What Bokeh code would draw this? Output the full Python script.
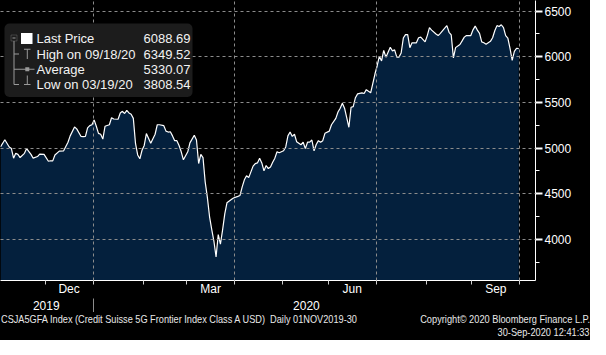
import pandas as pd
from bokeh.plotting import figure
from bokeh.models import (FixedTicker, LinearAxis, Range1d, BoxAnnotation, Label,
                          PolyAnnotation, Div, ColumnDataSource)
from bokeh.layouts import column
from bokeh.embed import file_html
from bokeh.resources import INLINE

# ---------------- data ----------------
start_date = "2019-11-01"
end_date = "2020-09-30"

# trading-day number (0 = 01 Nov 2019) and index level
trade_day = [0, 2, 4, 5, 6, 7, 8, 9, 11, 12, 14, 15, 17, 18, 20, 22, 23, 24, 25, 27,
             29, 31, 32, 34, 35, 37, 38, 39, 40, 41, 42, 43, 44, 45, 46, 47, 48, 50, 51, 52,
             54, 55, 56, 57, 58, 59, 60, 61, 62, 63, 64, 65, 66, 67, 69, 71, 72, 73, 75, 76,
             77, 78, 79, 80, 81, 82, 83, 84, 86, 87, 89, 90, 91, 92, 93, 94, 95, 96, 97, 98,
             99, 100, 101, 102, 103, 104, 106, 107, 109, 110, 111, 112, 113, 114, 116, 117, 118, 119, 120, 121,
             122, 123, 124, 125, 126, 127, 128, 130, 131, 132, 133, 134, 135, 136, 138, 139, 140, 141, 142, 143,
             144, 145, 146, 147, 148, 149, 151, 152, 154, 155, 156, 157, 158, 159, 160, 161, 162, 163, 164, 166,
             167, 168, 169, 170, 171, 172, 173, 174, 175, 176, 177, 179, 180, 181, 182, 183, 184, 185, 186, 187,
             188, 189, 191, 192, 193, 195, 196, 197, 198, 200, 201, 202, 204, 205, 206, 207, 208, 209, 211, 212,
             213, 214, 216, 217, 218, 219, 220, 221, 222, 223, 225, 226, 227, 228, 229, 230, 231, 232, 233, 234,
             235, 236, 237, 238]
close = [5012, 5091, 5012, 4994, 4889, 4942, 4931, 4896, 4942, 4994, 4931, 4889, 4907, 4934, 4931, 4855, 4861, 4859, 4924, 4966,
         4970, 5064, 5133, 5231, 5210, 5127, 5124, 5127, 5220, 5245, 5255, 5308, 5238, 5161, 5151, 5098, 5238, 5255, 5332, 5318,
         5315, 5384, 5402, 5378, 5412, 5384, 5370, 5325, 5050, 4924, 4882, 4976, 5028, 5158, 5053, 5151, 5255, 5255, 5245, 5185,
         5175, 5178, 5133, 5081, 5081, 5028, 4959, 4871, 4959, 5057, 5140, 5088, 4830, 4931, 4896, 4630, 4460, 4250, 4110, 3982,
         3808.54, 4052, 3948, 4105, 4279, 4400, 4436, 4453, 4471, 4481, 4575, 4652, 4697, 4676, 4802, 4830, 4837, 4889, 4837, 4750,
         4809, 4775, 4792, 4844, 4889, 4959, 4949, 4970, 5012, 5133, 5175, 5127, 5151, 5070, 5036, 5064, 4994, 5064, 5064, 5088,
         4970, 5039, 5081, 5064, 5081, 5161, 5185, 5255, 5325, 5394, 5436, 5489, 5436, 5332, 5227, 5447, 5454, 5551, 5593, 5604,
         5597, 5639, 5621, 5604, 5708, 5813, 5901, 6005, 5953, 6068, 5995, 6103, 6064, 6075, 5995, 5995, 6040, 6204, 6242, 6242,
         6099, 6152, 6152, 6207, 6214, 6162, 6231, 6319, 6291, 6249, 6231, 6256, 6312, 6340, 6267, 6238, 5987, 6099, 6134, 6173,
         6214, 6231, 6231, 6294, 6335, 6291, 6256, 6162, 6152, 6137, 6168, 6207, 6284, 6340, 6330, 6349.52, 6319, 6231, 6204, 6092,
         5959, 6058, 6092, 6088.69]

y_ticks = [4000, 4500, 5000, 5500, 6000, 6500]
y_minor_ticks = [3750, 4250, 4750, 5250, 5750, 6250]
month_labels = ["Dec", "Mar", "Jun", "Sep"]
month_label_periods = ["2019-12", "2020-03", "2020-06", "2020-09"]
year_labels = ["2019", "2020"]
legend_names = ["Last Price", "High on 09/18/20", "Average", "Low on 03/19/20"]
legend_values = ["6088.69", "6349.52", "5330.07", "3808.54"]
last_price = 6088.69
footer_left = "CSJA5GFA Index (Credit Suisse 5G Frontier Index Class A USD)&nbsp; Daily 01NOV2019-30"
footer_right = ["Copyright\u00a9 2020 Bloomberg Finance L.P.", "30-Sep-2020 12:41:33"]

# ---------------- derived tick positions ----------------
days = pd.bdate_range(start_date, end_date)
month_starts = pd.date_range("2019-12-01", "2020-10-01", freq="MS")
month_bounds = [float(days.searchsorted(m)) - 0.5 for m in month_starts]
quarter_bounds = [b for b, m in zip(month_bounds, month_starts) if m.month in (1, 4, 7, 10)]

month_mids = []
for per in month_label_periods:
    s = pd.Period(per, "M")
    a = float(days.searchsorted(s.start_time)) - 0.5
    b = float(days.searchsorted((s + 1).start_time)) - 0.5
    month_mids.append((a + b) / 2)

year_mids = []
for yl in year_labels:
    idx = [i for i, d in enumerate(days) if str(d.year) == yl]
    year_mids.append((idx[0] + idx[-1]) / 2)
year_sep = float(days.searchsorted(pd.Timestamp("2020-01-01"))) - 0.5

FONT = "Liberation Sans"
Y0, Y1 = 3550, 6615
FW, FH = 535, 280

p = figure(frame_width=FW, frame_height=FH,
           x_range=Range1d(0, 245.7), y_range=Range1d(Y0, Y1),
           y_axis_location="right", toolbar_location=None, output_backend="svg",
           min_border_left=0, min_border_top=0, min_border_right=55, min_border_bottom=0,
           background_fill_color="black", border_fill_color="black",
           outline_line_color=None)

src = ColumnDataSource(dict(x=trade_day, y=close))
p.varea(x="x", y1=Y0, y2="y", source=src, fill_color="#04203d")
p.line(x="x", y="y", source=src, line_color="white", line_width=1.2)

# grids
p.xgrid.ticker = FixedTicker(ticks=quarter_bounds)
p.ygrid.ticker = FixedTicker(ticks=y_ticks)
p.grid.grid_line_color = "#8c8c8c"
p.grid.grid_line_dash = "3 3"
p.grid.grid_line_width = 1
p.grid.level = "annotation"

# right value axis
ya = p.yaxis[0]
ya.ticker = FixedTicker(ticks=y_ticks, minor_ticks=y_minor_ticks)
ya.axis_line_color = "white"
ya.major_tick_line_color = "white"
ya.major_tick_line_width = 2
ya.major_tick_out = 7
ya.major_tick_in = 0
ya.minor_tick_line_color = "white"
ya.minor_tick_out = 4
ya.minor_tick_in = 0
ya.major_label_standoff = 2
ya.major_label_text_font = FONT
ya.major_label_text_font_size = "12px"
ya.major_label_text_color = "white"

# month axis
xa = p.xaxis[0]
xa.ticker = FixedTicker(ticks=month_mids, minor_ticks=month_bounds)
xa.major_label_overrides = {m: l for m, l in zip(month_mids, month_labels)}
xa.axis_line_color = "white"
xa.major_tick_line_color = None
xa.major_tick_out = 0
xa.major_tick_in = 0
xa.minor_tick_line_color = "#d0d0d0"
xa.minor_tick_out = 4
xa.minor_tick_in = 0
xa.major_label_standoff = -3
xa.major_label_text_font = FONT
xa.major_label_text_font_size = "12px"
xa.major_label_text_color = "white"

# year axis
yr = LinearAxis(ticker=FixedTicker(ticks=year_mids, minor_ticks=[year_sep]))
yr.major_label_overrides = {m: l for m, l in zip(year_mids, year_labels)}
yr.axis_line_color = None
yr.major_tick_line_color = None
yr.major_tick_out = 0
yr.major_tick_in = 0
yr.minor_tick_line_color = "#8c8c8c"
yr.minor_tick_out = 16
yr.minor_tick_in = 0
yr.major_label_standoff = -14
yr.major_label_text_font = FONT
yr.major_label_text_font_size = "12px"
yr.major_label_text_color = "white"
p.add_layout(yr, "below")

# ---------------- legend box ----------------
def sbox(l, r, b, t, color="#9a9a9a", fill=True, line=None):
    return BoxAnnotation(left=l, right=r, bottom=b, top=t,
                         left_units="screen", right_units="screen",
                         bottom_units="screen", top_units="screen",
                         fill_color=color if fill else None, fill_alpha=1.0 if fill else 0.0,
                         line_color=line, line_width=1, level="overlay")

legend_bg = sbox(4, 192, 183.5, 257, color="#1c1c1c")
legend_bg.border_radius = 5
p.add_layout(legend_bg)

rows_y = [241.8, 226.5, 211.2, 196]
gray = "#9a9a9a"
# tree: minus box, vertical, connectors
p.add_layout(sbox(10.5, 16.5, 239.5, 245.5, fill=False, line=gray))
p.add_layout(sbox(12, 15, 242, 243, color=gray))
p.add_layout(sbox(13, 14, 196, 239.5, color=gray))
for ry in rows_y[1:]:
    p.add_layout(sbox(13.5, 18.5, ry - 0.5, ry + 0.5, color=gray))
# icons
p.add_layout(sbox(20.5, 32, 236.5, 247.5, color="white"))
p.add_layout(sbox(23.5, 30, 230.8, 231.8, color=gray))
p.add_layout(sbox(26.3, 27.3, 221.5, 231.3, color=gray))
p.add_layout(sbox(18.5, 34, 210.7, 211.7, color=gray))
p.add_layout(sbox(24.8, 28.8, 209.2, 213.2, color=gray))
p.add_layout(sbox(26.3, 27.3, 196, 205, color=gray))
p.add_layout(sbox(23.5, 30, 195.5, 196.5, color=gray))

for name, val, ry in zip(legend_names, legend_values, rows_y):
    p.add_layout(Label(x=36, y=ry, x_units="screen", y_units="screen", text=name,
                       text_font=FONT, text_font_size="13px", text_color="#f2f2f2",
                       text_baseline="middle", level="overlay"))
    p.add_layout(Label(x=190, y=ry, x_units="screen", y_units="screen", text=val,
                       text_font=FONT, text_font_size="13px", text_color="#f2f2f2",
                       text_baseline="middle", text_align="right", level="overlay"))

# ---------------- last price tag ----------------
h = 70
tag = PolyAnnotation(xs=[537, 542, 590, 590, 542],
                     ys=[last_price, last_price + h, last_price + h, last_price - h, last_price - h],
                     xs_units="screen", ys_units="data",
                     fill_color="white", fill_alpha=1.0, line_color=None, level="overlay")
p.add_layout(tag)
p.add_layout(Label(x=543, y=last_price, x_units="screen", y_units="data", text=legend_values[0],
                   text_font=FONT, text_font_size="12px", text_color="black",
                   text_baseline="middle", level="overlay"))

# ---------------- footer ----------------
footer_html = (
    '<div style="position:relative;width:590px;height:28px;overflow:hidden;'
    "font-family:'Liberation Sans',sans-serif;"
    'font-size:10.5px;line-height:13px;color:#e8e8e8;background:#000;">'
    '<span style="position:absolute;left:1px;top:1px;white-space:nowrap;'
    'transform:scaleX(0.875);transform-origin:left center;">' + footer_left + '</span>'
    '<span style="position:absolute;right:0;top:1px;white-space:nowrap;'
    'transform:scaleX(0.88);transform-origin:right center;">' + footer_right[0] + '</span>'
    '<span style="position:absolute;right:0;top:14px;white-space:nowrap;'
    'transform:scaleX(0.88);transform-origin:right center;">' + footer_right[1] + '</span>'
    '</div>'
)
footer = Div(text=footer_html, width=590, height=28, margin=0,
             styles={"background-color": "black"})

layout = column(p, footer, spacing=0, styles={"background-color": "black"})

open("out.html", "w").write(file_html(layout, INLINE))
